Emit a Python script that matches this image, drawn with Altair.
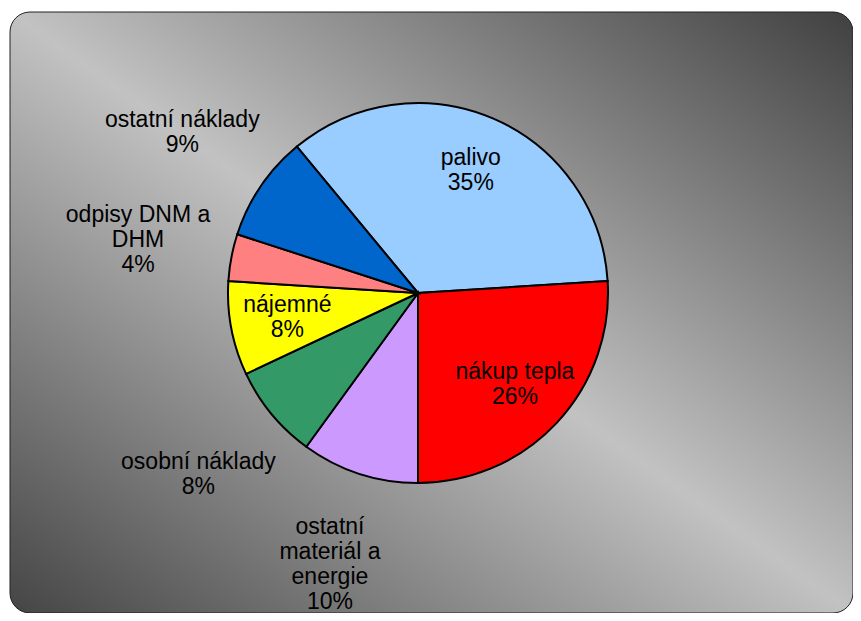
import math
import json
import altair as alt
import pandas as pd

# ---- data ----
categories = ["palivo", "nákup tepla", "ostatní materiál a energie", "osobní náklady",
              "nájemné", "odpisy DNM a DHM", "ostatní náklady"]
shares = [35, 26, 10, 8, 8, 4, 9]
label_text = ["palivo", "nákup tepla", "ostatní\nmateriál a\nenergie", "osobní náklady",
              "nájemné", "odpisy DNM a\nDHM", "ostatní náklady"]
colors = ["#99CCFF", "#FF0000", "#CC99FF", "#339966", "#FFFF00", "#FF8080", "#0066CC"]
inside_labels = ["palivo", "nákup tepla", "nájemné"]

df = pd.DataFrame({
    "category": categories,
    "share": shares,
    "label": label_text,
    "idx": list(range(len(categories))),
})

# ---- layout ----
W, H = 843, 601
CX, CY = 408, 281
R = 190
R_IN, R_OUT = 0.7 * R, 1.5 * R
LH = 25
start = math.radians(320.4)
theta_scale = alt.Scale(range=[start, start + 2 * math.pi])

bg_gradient = alt.LinearGradient(
    gradient="linear",
    stops=[
        alt.GradientStop(color="#454545", offset=0),
        alt.GradientStop(color="#c2c2c2", offset=0.5),
        alt.GradientStop(color="#404040", offset=1),
    ],
    x1=0, y1=1, x2=1, y2=0,
)

background = alt.Chart(pd.DataFrame({"panel": ["bg"]})).mark_rect(
    cornerRadius=20, stroke="#222222", strokeWidth=1, color=bg_gradient,
).encode(
    x=alt.value(0), x2=alt.value(W), y=alt.value(0), y2=alt.value(H),
)

pie = alt.Chart(df).mark_arc(outerRadius=R, stroke="black", strokeWidth=2).encode(
    theta=alt.Theta("share:Q", stack=True, scale=theta_scale),
    order=alt.Order("idx:Q"),
    color=alt.Color("category:N", scale=alt.Scale(domain=categories, range=colors), legend=None),
    x=alt.value(CX),
    y=alt.value(CY),
)

# label anchors: middle angle of each slice, block-centred multi-line text
inside_js = json.dumps(inside_labels, ensure_ascii=False)
labels = alt.Chart(df).transform_window(
    cum="sum(share)", sort=[alt.SortField("idx", order="ascending")], frame=[None, 0]
).transform_joinaggregate(
    total="sum(share)"
).transform_calculate(
    txt="datum.label + '\\n' + datum.share + '%'",
    nlines="length(split(datum.label, '\\n')) + 1",
    ang=f"{start} + 2 * PI * (datum.cum - datum.share / 2) / datum.total",
    r=f"indexof({inside_js}, datum.category) >= 0 ? {R_IN} : {R_OUT}",
).transform_calculate(
    lx=f"{CX} + datum.r * sin(datum.ang)",
    ly=f"{CY} - datum.r * cos(datum.ang) - (datum.nlines - 1) * {LH} / 2",
).mark_text(
    font="Liberation Sans", fontSize=23, lineHeight=LH, lineBreak="\n",
    color="black", align="center", baseline="middle",
).encode(
    x=alt.X("lx:Q", scale=None, axis=None),
    y=alt.Y("ly:Q", scale=None, axis=None),
    text="txt:N",
)

chart = alt.layer(background, pie, labels).properties(
    width=W, height=H,
    padding={"left": 2, "top": 4, "right": 0, "bottom": 0},
    autosize=alt.AutoSizeParams(type="none"),
    background="white",
).configure_view(stroke=None)

chart.save("out.html", embed_options={"renderer": "svg", "actions": False})
